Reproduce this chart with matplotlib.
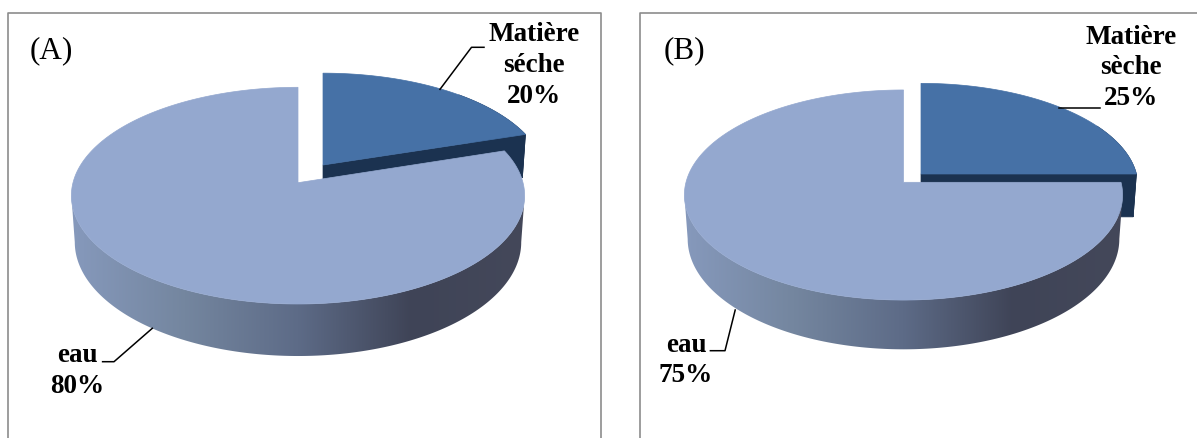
import numpy as np
import matplotlib
matplotlib.use("Agg")
import matplotlib.pyplot as plt
from matplotlib.colors import LinearSegmentedColormap
from matplotlib.patches import Polygon

plt.rcParams['font.family'] = ['Liberation Serif', 'DejaVu Serif']

# share of each part, first slice starts at 12 o'clock and goes clockwise
shares_a = [20, 80]
shares_b = [25, 75]
names_a = ["Matière\nséche", "eau"]
names_b = ["Matière\nsèche", "eau"]

TOP_LIGHT = "#94a8cf"
TOP_DARK = "#4671a6"
SIDE_DARK = "#1b3250"
BORDER = "#8c8c8c"

side_cmap = LinearSegmentedColormap.from_list(
    "side", ["#8699bc", "#74869f", "#5d6b87", "#3f4457", "#44485a"])


def project(u, v, g):
    """Perspective mapping of the pie plane onto the page"""
    w = 1 + g['k'] * v
    return g['cx'] + g['a'] * u / w, g['cy'] - g['b'] * v / w


def lower(x, v, y, g):
    """Same point on the bottom face of the disc"""
    w = 1 + g['k'] * v
    return g['cx'] + (x - g['cx']) * 0.985, y + g['depth'] / w


def rim(start, stop, pull, g):
    # pull = (sideways shift in pixels, shift along the pie plane)
    t = np.radians(np.linspace(start, stop, 400))
    u = np.sin(t)
    v = pull[1] + np.cos(t)
    x, y = project(u, v, g)
    xb, yb = lower(x, v, y, g)
    return x + pull[0], y, xb + pull[0], yb


def draw_small_slice(ax, stop, pull, g):
    ax0, ay0 = project(0, pull[1], g)
    bx0, by0 = lower(ax0, pull[1], ay0, g)
    ax0 += pull[0]
    bx0 += pull[0]

    # only the end of the rim and the cut face can be seen on this slice
    x, y, xb, yb = rim(stop - 30, stop, pull, g)
    outline = list(zip(x, y)) + list(zip(xb[::-1], yb[::-1]))
    ax.add_patch(Polygon(outline, fc=SIDE_DARK, ec=SIDE_DARK, lw=0.5, zorder=2))
    ax.add_patch(Polygon([(ax0, ay0), (x[-1], y[-1]), (xb[-1], yb[-1]), (bx0, by0)],
                         fc=SIDE_DARK, ec=SIDE_DARK, lw=0.5, zorder=2))

    x, y, _, _ = rim(0, stop, pull, g)
    ax.add_patch(Polygon([(ax0, ay0)] + list(zip(x, y)), fc=TOP_DARK, ec=TOP_DARK, lw=0.5, zorder=3))


def draw_big_slice(ax, start, g):
    # front wall from the widest point on the right to the one on the left
    widest = np.degrees(np.arccos(-g['k']))
    x, y, xb, yb = rim(widest, 360 - widest, (0, 0), g)
    outline = list(zip(x, y)) + list(zip(xb[::-1], yb[::-1]))
    wall = Polygon(outline, fc='none', ec='none', transform=ax.transData)
    ax.add_patch(wall)
    extent = [x.min(), x.max(), yb.max() + 1, y.min()]
    shade = ax.imshow(np.linspace(0, 1, 256).reshape(1, -1), cmap=side_cmap, extent=extent,
                      aspect='auto', zorder=4, interpolation='bilinear')
    shade.set_clip_path(wall)

    x, y, _, _ = rim(start, 360, (0, 0), g)
    ax0, ay0 = project(0, 0, g)
    ax.add_patch(Polygon([(ax0, ay0)] + list(zip(x, y)), fc=TOP_LIGHT, ec=TOP_LIGHT, lw=0.5, zorder=5))


def draw_pie(ax, shares, pull, g):
    split = 360 * shares[0] / sum(shares)
    draw_small_slice(ax, split, pull, g)
    draw_big_slice(ax, split, g)


def put_lines(ax, x, baselines, lines):
    for yy, s in zip(baselines, lines):
        ax.text(x, yy, s, ha='center', va='baseline', fontsize=19.5, fontweight='bold',
                color='black', zorder=8)


fig = plt.figure(figsize=(11.97, 4.38), dpi=100)
ax = fig.add_axes([0, 0, 1, 1])
ax.axis('off')

# panel frames, open at the bottom of the page
ax.plot([8, 8, 601, 601], [438, 13, 13, 438], color=BORDER, lw=1.2, zorder=1)
ax.plot([640, 640, 1197], [438, 13, 13], color=BORDER, lw=1.2, zorder=1)

geom_a = dict(cx=298, cy=182.7, a=225, b=106.8, k=0.1195, depth=45.8)
geom_b = dict(cx=903.5, cy=182.3, a=217.5, b=103.5, k=0.121, depth=43.3)
draw_pie(ax, shares_a, (25, 0.169), geom_a)
draw_pie(ax, shares_b, (17.5, 0.081), geom_b)

ax.text(30, 58.3, "(A)", fontsize=22.5, va='baseline', zorder=8)
ax.text(664, 58.3, "(B)", fontsize=22.5, va='baseline', zorder=8)

put_lines(ax, 534, [40.7, 71.7, 103.3], names_a[0].split("\n") + [f"{shares_a[0]}%"])
put_lines(ax, 77, [361.7, 393.3], [names_a[1], f"{shares_a[1]}%"])
put_lines(ax, 1131, [44, 74, 105], names_b[0].split("\n") + [f"{shares_b[0]}%"])
put_lines(ax, 686, [351.7, 381.7], [names_b[1], f"{shares_b[1]}%"])

# leader lines
for xs, ys in [([440, 471.5, 484], [89.3, 47.3, 47.3]),
               ([152.3, 114, 102.6], [328.3, 361.7, 361.7]),
               ([1059, 1099.6], [107.7, 107.7]),
               ([735.2, 725, 710.4], [310, 350.7, 350.7])]:
    ax.plot(xs, ys, color='black', lw=1.1, zorder=7)

ax.set_xlim(0, 1197)
ax.set_ylim(438, 0)

fig.savefig("out.png", dpi=100)
